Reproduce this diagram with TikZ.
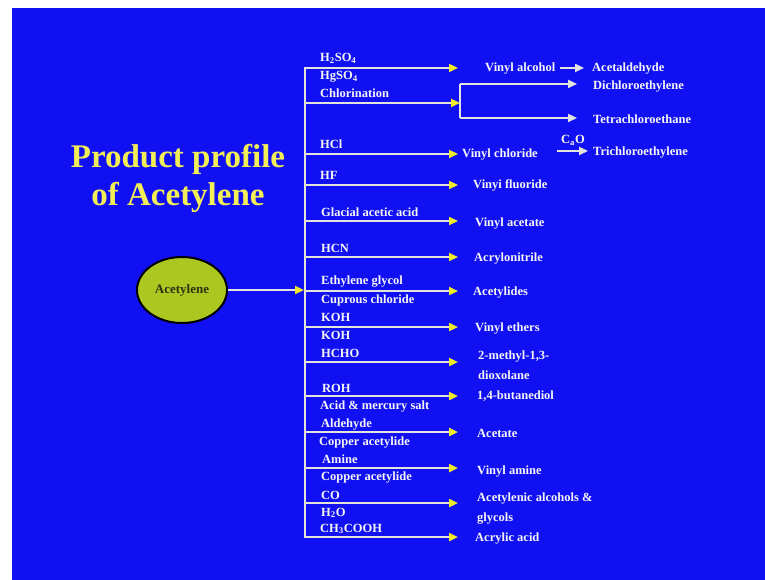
\documentclass[tikz,border=0pt]{standalone}
\usepackage{fontspec}
\setmainfont{Liberation Serif}
\usetikzlibrary{arrows.meta,shapes.geometric}
\definecolor{slide}{RGB}{16,16,242}
\definecolor{titley}{RGB}{242,238,88}
\definecolor{elc}{RGB}{172,200,32}
\definecolor{elt}{RGB}{45,50,20}
\definecolor{linec}{RGB}{228,228,222}
\definecolor{tipy}{RGB}{240,236,40}
\definecolor{txt}{RGB}{246,246,246}
\begin{document}
\begin{tikzpicture}[x=1pt,y=-1pt,
  lbl/.style={anchor=base west, inner sep=0pt, text=txt, font=\fontsize{12.5}{14}\selectfont\bfseries},
  prod/.style={lbl, align=left, font=\fontsize{12.5}{20}\selectfont\bfseries},
  feed/.style={draw=linec, line width=2.3pt, -{Triangle[length=9pt,width=8pt,color=tipy]}},
  onward/.style={draw=linec, line width=2.3pt, -{Triangle[length=9pt,width=8pt,color=linec]}},
  plain/.style={draw=linec, line width=2.3pt},
]
\useasboundingbox (0,0) rectangle (765,580);
\fill[white] (0,0) rectangle (765,580);
\fill[slide] (12,8) rectangle (765,580);

% title
\node[anchor=north, inner sep=0pt, align=center, text=titley,
      font=\fontsize{33}{38}\selectfont\bfseries] (title) at (178,144)
      {Product profile\\of Acetylene};

% starting material
\node[ellipse, draw=black, line width=2pt, fill=elc, text=elt, inner sep=0pt,
      minimum width=90pt, minimum height=66pt,
      font=\fontsize{13}{15}\selectfont\bfseries] (ace) at (182,290) {Acetylene};

% trunk
\coordinate (ttop) at (305,67);
\coordinate (tbot) at (305,538);
\coordinate (tin) at (304,290);
\draw[plain] (ttop) -- (tbot);
\draw[feed] (ace.east) -- (tin);

% branch points on the trunk and arrow tips
\foreach \i/\y in {1/68,2/103,3/154,4/185,5/221,6/257,7/291,8/327,9/362,10/396,11/432,12/468,13/503,14/537}{
  \coordinate (b\i) at (305,\y);
  \coordinate (e\i) at (458,\y);
}
\coordinate (e2) at (460,103);
\foreach \i in {1,3,4,5,6,7,8,9,10,11,12,13,14}{
  \draw[feed] (b\i) -- (e\i);
}
\draw[feed] (b2) -- (e2);

% reagents
\node[lbl] (r1a) at (320,62) {H\textsubscript{2}SO\textsubscript{4}};
\node[lbl] (r1b) at (320,80) {HgSO\textsubscript{4}};
\node[lbl] (r2) at (320,98) {Chlorination};
\node[lbl] (r3) at (320,149) {HCl};
\node[lbl] (r4) at (320,180) {HF};
\node[lbl] (r5) at (321,216) {Glacial acetic acid};
\node[lbl] (r6) at (321,252) {HCN};
\node[lbl] (r7a) at (321,284) {Ethylene glycol};
\node[lbl] (r7b) at (321,303) {Cuprous chloride};
\node[lbl] (r8a) at (321,321) {KOH};
\node[lbl] (r8b) at (321,339) {KOH};
\node[lbl] (r9) at (321,357) {HCHO};
\node[lbl] (r10a) at (322,392) {ROH};
\node[lbl] (r10b) at (320,409) {Acid \& mercury salt};
\node[lbl] (r11a) at (321,427) {Aldehyde};
\node[lbl] (r11b) at (319,445) {Copper acetylide};
\node[lbl] (r12a) at (322,463) {Amine};
\node[lbl] (r12b) at (321,480) {Copper acetylide};
\node[lbl] (r13a) at (321,499) {CO};
\node[lbl] (r13b) at (321,516) {H\textsubscript{2}O};
\node[lbl] (r14) at (320,532) {CH\textsubscript{3}COOH};

% products (multi-line nodes sit on the baseline of their last line)
\node[prod] (p1) at (485,72) {Vinyl alcohol};
\node[prod] (p1b) at (592,72) {Acetaldehyde};
\node[prod] (p2a) at (593,90) {Dichloroethylene};
\node[prod] (p2b) at (593,124) {Tetrachloroethane};
\node[prod] (p3) at (462,158) {Vinyl chloride};
\node[prod] (p3b) at (593,156) {Trichloroethylene};
\node[prod] (p4) at (473,189) {Vinyi fluoride};
\node[prod] (p5) at (475,226) {Vinyl acetate};
\node[prod] (p6) at (474,261) {Acrylonitrile};
\node[prod] (p7) at (473,295) {Acetylides};
\node[prod] (p8) at (475,331) {Vinyl ethers};
\node[prod] (p9) at (478,379) {2-methyl-1,3-\\dioxolane};
\node[prod] (p10) at (477,399) {1,4-butanediol};
\node[prod] (p11) at (477,437) {Acetate};
\node[prod] (p12) at (477,474) {Vinyl amine};
\node[prod] (p13) at (477,521) {Acetylenic alcohols \&\\glycols};
\node[prod] (p14) at (475,541) {Acrylic acid};

% second-stage arrows
\coordinate (v1) at (560,68);
\coordinate (v1t) at (584,68);
\draw[onward] (v1) -- (v1t);

\coordinate (k1) at (460,84);
\coordinate (k2) at (460,118);
\coordinate (k1t) at (577,84);
\coordinate (k2t) at (577,118);
\draw[plain] (k1) -- (k2);
\draw[onward] (k1) -- (k1t);
\draw[onward] (k2) -- (k2t);

\coordinate (c1) at (557,151);
\coordinate (c1t) at (588,151);
\draw[onward] (c1) -- (c1t);
\node[lbl, anchor=base] (cao) at (573,144) {C\textsubscript{a}O};
\end{tikzpicture}
\end{document}
